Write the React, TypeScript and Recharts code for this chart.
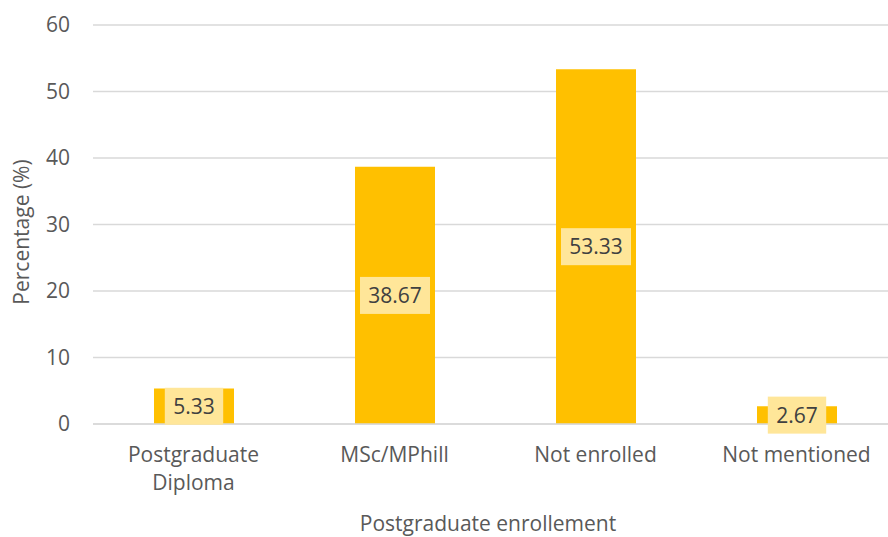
import React from 'react';
import { BarChart, Bar, XAxis, YAxis, CartesianGrid, LabelList } from 'recharts';

const categories = ['Postgraduate Diploma', 'MSc/MPhill', 'Not enrolled', 'Not mentioned'];
const tickLines = [['Postgraduate', 'Diploma'], ['MSc/MPhill'], ['Not enrolled'], ['Not mentioned']];
const percentages = [5.33, 38.67, 53.33, 2.67];
const yTicks = [0, 10, 20, 30, 40, 50, 60];

const data = categories.map((name, i) => ({ name, value: percentages[i], lines: tickLines[i] }));

const FONT = '"Open Sans", sans-serif';

// two-line category labels like the original
const CategoryTick = (props: any) => {
  const { x, payload, index } = props;
  const lines = tickLines[index] ?? [payload.value];
  return (
    <text x={x} y={462} textAnchor="middle" fill="#595959" fontSize={21} fontFamily={FONT}>
      {lines.map((l: string, i: number) => (
        <tspan key={i} x={x} dy={i === 0 ? 0 : 28}>{l}</tspan>
      ))}
    </text>
  );
};

// value label in a pale box centered on the bar
const ValueLabel = (props: any) => {
  const { x, y, width, height, value } = props;
  const txt = String(value);
  const w = txt.length * 11.6 + 12;
  const h = 37;
  const cx = x + width / 2;
  const cy = y + height / 2;
  return (
    <g>
      <rect x={cx - w / 2} y={cy - h / 2} width={w} height={h} fill="#FFE699" />
      <text x={cx} y={cy + 7.5} textAnchor="middle" fill="#404040" fontSize={21} fontFamily={FONT}>
        {txt}
      </text>
    </g>
  );
};

export default function App() {
  return (
    <div style={{ position: 'absolute', left: 0, top: 0, width: 888, height: 537, overflow: 'hidden', background: '#fff' }}>
      <BarChart
        width={900}
        height={537}
        data={data}
        margin={{ top: 25, right: 3, bottom: 0, left: 0 }}
        barSize={80}
      >
        <CartesianGrid vertical={false} stroke="#d9d9d9" strokeWidth={1.5} />
        <XAxis
          dataKey="name"
          height={113}
          axisLine={{ stroke: '#d9d9d9', strokeWidth: 1.5 }}
          tickLine={false}
          interval={0}
          tick={<CategoryTick />}
          label={(p: any) => (
            <text x={488} y={531} textAnchor="middle" fill="#595959" fontSize={21} fontFamily={FONT}>
              Postgraduate enrollement
            </text>
          )}
        />
        <YAxis
          width={93}
          domain={[0, 60]}
          ticks={yTicks}
          axisLine={false}
          tickLine={false}
          tickMargin={17}
          tick={{ fill: '#595959', fontSize: 21, fontFamily: FONT }}
          label={(p: any) => (
            <text
              x={0}
              y={0}
              transform="translate(29, 232) rotate(-90)"
              textAnchor="middle"
              fill="#595959"
              fontSize={21}
              fontFamily={FONT}
            >
              Percentage (%)
            </text>
          )}
        />
        <Bar dataKey="value" fill="#FFC000" isAnimationActive={false}>
          <LabelList dataKey="value" content={<ValueLabel />} />
        </Bar>
      </BarChart>
    </div>
  );
}
